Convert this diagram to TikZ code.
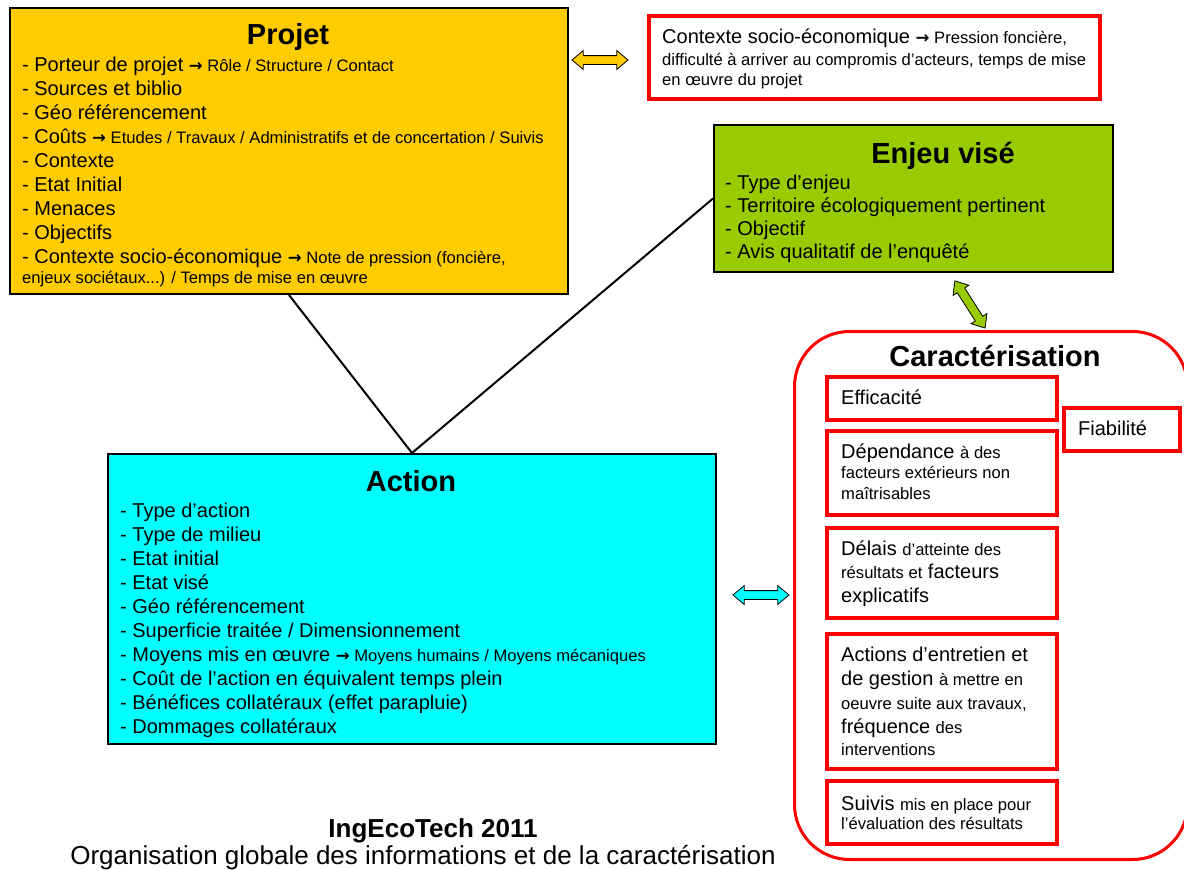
\documentclass[tikz,border=0pt]{standalone}
\usepackage{fontspec}
\setmainfont{Liberation Sans}
\newfontfamily\arrowfont{DejaVu Sans}
\usetikzlibrary{shapes.arrows}

\definecolor{projyellow}{HTML}{FFCC00}
\definecolor{enjeugreen}{HTML}{99CC00}
\definecolor{actioncyan}{HTML}{00FFFF}
\definecolor{boxred}{HTML}{FF0000}

% text sizes (natural inter-word spaces of each size)
\newcommand\smtxt{\fontsize{16.6}{20}\selectfont\spaceskip=0pt\xspaceskip=0pt }
\newcommand\mdtxt{\fontsize{20}{24}\selectfont}
% arrow sign used inside the lists
\newcommand\rarr{{\arrowfont\bfseries →}}

\tikzset{
  mainbox/.style={draw=black, line width=2pt, inner sep=0pt, anchor=north west},
  redbox/.style={draw=boxred, line width=3.5pt, inner sep=0pt, anchor=north west},
  boxtitle/.style={font=\fontsize{29}{34}\selectfont\bfseries, inner sep=0pt, anchor=base},
  listtext/.style={inner sep=0pt, anchor=base west, align=left, text width=#1,
    execute at begin node={\spaceskip=0pt\xspaceskip=0pt}},
  listtext/.default=540pt,
  dblarrow/.style={double arrow, draw=black, line width=0.8pt, inner xsep=0pt, inner ysep=4pt,
    minimum height=56pt, double arrow head extend=5pt,
    double arrow tip angle=80},
  conn/.style={draw=black, line width=2pt},
}

\begin{document}
\begin{tikzpicture}[x=1pt, y=-1pt]
\useasboundingbox (0,0) rectangle (1184,870);

% ---------- Projet ----------
\node[mainbox, fill=projyellow, minimum width=558pt, minimum height=286pt] (projet) at (9,7) {};
\node[boxtitle] (projetT) at (288,44) {Projet};
\node[listtext=540pt, font=\mdtxt] (projetL) at (22,71) {%
- Porteur de projet {\smtxt\rarr\ Rôle / Structure / Contact}\\
- Sources et biblio\\
- Géo référencement\\
- Coûts {\smtxt\rarr\ Etudes / Travaux / Administratifs et de concertation / Suivis}\\
- Contexte\\
- Etat Initial\\
- Menaces\\
- Objectifs\\
- Contexte socio-économique {\smtxt\rarr\ Note de pression (foncière,}\\[-4pt]
{\smtxt enjeux sociétaux...) / Temps de mise en œuvre}};

% ---------- Contexte socio-économique ----------
\node[redbox, minimum width=451pt, minimum height=83pt] (contexte) at (647,14) {};
\node[listtext=430pt, font=\fontsize{20}{22}\selectfont] (contexteL) at (662,43) {%
Contexte socio-économique {\smtxt\rarr\ Pression foncière,}\\
{\smtxt difficulté à arriver au compromis d’acteurs, temps de mise}\\[-2pt]
{\smtxt en œuvre du projet}};

% ---------- Enjeu visé ----------
\node[mainbox, fill=enjeugreen, minimum width=399pt, minimum height=147pt] (enjeu) at (713,124) {};
\node[boxtitle] (enjeuT) at (943,163) {Enjeu visé};
\node[listtext=380pt, font=\fontsize{20}{23.3}\selectfont] (enjeuL) at (725,189) {%
- Type d’enjeu\\
- Territoire écologiquement pertinent\\
- Objectif\\
- Avis qualitatif de l’enquêté};

% ---------- Action ----------
\node[mainbox, fill=actioncyan, minimum width=608pt, minimum height=290pt] (action) at (107,453) {};
\node[boxtitle] (actionT) at (411,491) {Action};
\node[listtext=590pt, font=\mdtxt] (actionL) at (120,517) {%
- Type d’action\\
- Type de milieu\\
- Etat initial\\
- Etat visé\\
- Géo référencement\\
- Superficie traitée / Dimensionnement\\
- Moyens mis en œuvre {\smtxt\rarr\ Moyens humains / Moyens mécaniques}\\
- Coût de l’action en équivalent temps plein\\
- Bénéfices collatéraux (effet parapluie)\\
- Dommages collatéraux};

% ---------- links between the three main boxes ----------
\draw[conn] (projet.south) -- (action.north) -- (enjeu.west);

% ---------- Caractérisation ----------
\node[draw=boxred, line width=3pt, rounded corners=55pt, inner sep=0pt, anchor=north west,
  minimum width=393pt, minimum height=528pt] (carac) at (793,330) {};
\node[boxtitle] (caracT) at (995,366) {Caractérisation};

\node[redbox, minimum width=230pt, minimum height=43pt] (effic) at (825,375) {};
\node[listtext=210pt, font=\mdtxt] (efficL) at (841,404) {Efficacité};

\node[redbox, minimum width=116pt, minimum height=43pt] (fiab) at (1062,406) {};
\node[listtext=100pt, font=\mdtxt] (fiabL) at (1078,435) {Fiabilité};

\node[redbox, minimum width=230pt, minimum height=84pt] (depend) at (825,429) {};
\node[listtext=210pt, font=\fontsize{20}{20.5}\selectfont] (dependL) at (841,458) {%
Dépendance {\smtxt à des}\\
{\smtxt facteurs extérieurs non}\\
{\smtxt maîtrisables}};

\node[redbox, minimum width=230pt, minimum height=90pt] (delais) at (825,526) {};
\node[listtext=210pt, font=\fontsize{20}{23.5}\selectfont] (delaisL) at (841,555) {%
Délais {\smtxt d’atteinte des}\\
{\smtxt résultats et} facteurs\\
explicatifs};

\node[redbox, minimum width=230pt, minimum height=135pt] (entret) at (825,632) {};
\node[listtext=215pt, font=\mdtxt] (entretL) at (841,661) {%
Actions d’entretien et\\
de gestion {\smtxt à mettre en}\\
{\smtxt oeuvre suite aux travaux,}\\
fréquence {\smtxt des}\\[-2pt]
{\smtxt interventions}};

\node[redbox, minimum width=230pt, minimum height=63pt] (suivis) at (825,779) {};
\node[listtext=215pt, font=\fontsize{20}{19.5}\selectfont] (suivisL) at (841,810) {%
Suivis {\smtxt mis en place pour}\\
{\smtxt l’évaluation des résultats}};

% ---------- block double arrows ----------
\node[dblarrow, fill=projyellow] (arrPC) at (600,60) {};
\node[dblarrow, fill=enjeugreen, rotate=-57.4] (arrEC) at (970,304.5) {};
\node[dblarrow, fill=actioncyan] (arrAC) at (761,595) {};

% ---------- caption ----------
\node[inner sep=0pt, anchor=base, font=\fontsize{26}{30}\selectfont\bfseries] (capT) at (433,837) {IngEcoTech 2011};
\node[inner sep=0pt, anchor=base, font=\fontsize{26}{30}\selectfont] (capS) at (423,864) {Organisation globale des informations et de la caractérisation};
\end{tikzpicture}
\end{document}
